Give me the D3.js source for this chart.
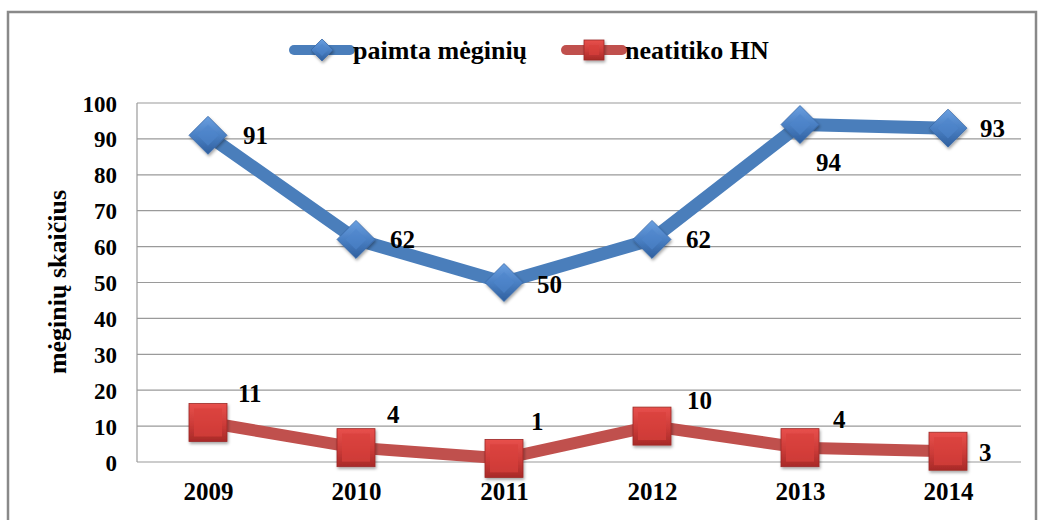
<!DOCTYPE html>
<html>
<head>
<meta charset="utf-8">
<script src="https://cdn.jsdelivr.net/npm/d3@7"></script>
<style>
  body { margin: 0; background: #fff; }
  svg text { font-family: "Liberation Serif", "Times New Roman", serif !important; font-weight: bold; fill: #000; }
</style>
</head>
<body>
<div id="chart"></div>
<script>
let years = ['2009', '2010', '2011', '2012', '2013', '2014']
let paimta = [91, 62, 50, 62, 94, 93]
let neatitiko = [11, 4, 1, 10, 4, 3]
let yTicks = [0, 10, 20, 30, 40, 50, 60, 70, 80, 90, 100]
let seriesNames = ['paimta mėginių', 'neatitiko HN']
let yTitle = 'mėginių skaičius'

// label offsets (px) from each point, like Excel placed them
let blueLabelPos = [[35, 0], [34, 0], [33, 2], [34, 0], [16, 38], [32, 0]]
let redLabelPos = [[30, -29], [31, -33], [27, -37], [35, -26], [33, -28], [31, 1]]

let width = 1038
let height = 520
let plot = { left: 137, right: 1021, top: 103, bottom: 462 }

let svg = d3
  .select('#chart')
  .append('svg')
  .attr('width', width)
  .attr('height', height)

let defs = svg.append('defs')

let blueGrad = defs.append('linearGradient')
  .attr('id', 'blueGrad').attr('x1', 0).attr('y1', 0).attr('x2', 0).attr('y2', 1)
blueGrad.append('stop').attr('offset', '0%').attr('stop-color', '#6a9fe0')
blueGrad.append('stop').attr('offset', '50%').attr('stop-color', '#4a80c4')
blueGrad.append('stop').attr('offset', '100%').attr('stop-color', '#2f5f9e')

let redGrad = defs.append('linearGradient')
  .attr('id', 'redGrad').attr('x1', 0).attr('y1', 0).attr('x2', 0).attr('y2', 1)
redGrad.append('stop').attr('offset', '0%').attr('stop-color', '#e8504c')
redGrad.append('stop').attr('offset', '55%').attr('stop-color', '#cc3b38')
redGrad.append('stop').attr('offset', '100%').attr('stop-color', '#a82a28')

let shadow = defs.append('filter').attr('id', 'shadow')
  .attr('x', '-30%').attr('y', '-30%').attr('width', '160%').attr('height', '160%')
shadow.append('feDropShadow')
  .attr('dx', 1).attr('dy', 2).attr('stdDeviation', 1.5)
  .attr('flood-color', '#000').attr('flood-opacity', 0.35)

// outer chart border
svg.append('rect')
  .attr('x', 8).attr('y', 12)
  .attr('width', 1028).attr('height', 520)
  .attr('fill', 'none')
  .attr('stroke', '#898989')
  .attr('stroke-width', 2.5)

let xScale = d3.scalePoint().domain(years).range([134, 1022]).padding(0.5)
let yScale = d3.scaleLinear().domain([0, 100]).range([plot.bottom, plot.top])

// gridlines
svg.append('g')
  .selectAll('line')
  .data(yTicks)
  .enter()
  .append('line')
  .attr('x1', plot.left)
  .attr('x2', plot.right)
  .attr('y1', d => yScale(d))
  .attr('y2', d => yScale(d))
  .attr('stroke', '#9a9a9a')
  .attr('stroke-width', 1.2)

svg.append('line')
  .attr('x1', plot.left).attr('x2', plot.left)
  .attr('y1', plot.top).attr('y2', plot.bottom)
  .attr('stroke', '#9a9a9a').attr('stroke-width', 1.2)

// y axis labels
let yAxis = d3.axisLeft(yScale).tickValues(yTicks).tickSize(0).tickPadding(20)
svg.append('g')
  .attr('transform', `translate(${plot.left},0)`)
  .call(yAxis)
  .attr('font-family', null)
  .attr('font-size', 23)
  .call(g => g.select('.domain').remove())
  .selectAll('text')
  .attr('dy', '0.35em')

// x axis labels
let xAxis = d3.axisBottom(xScale).tickSize(0).tickPadding(20)
svg.append('g')
  .attr('transform', `translate(0,${plot.bottom})`)
  .call(xAxis)
  .attr('font-family', null)
  .attr('font-size', 25)
  .call(g => g.select('.domain').remove())

svg.append('text')
  .attr('transform', 'translate(66,282) rotate(-90)')
  .attr('text-anchor', 'middle')
  .attr('font-size', 26)
  .text(yTitle)

let line = d3.line()
  .x((d, i) => xScale(years[i]))
  .y(d => yScale(d))

function diamond(g, cx, cy, r) {
  g.append('path')
    .attr('d', `M${cx},${cy - r}L${cx + r},${cy}L${cx},${cy + r}L${cx - r},${cy}Z`)
    .attr('fill', 'url(#blueGrad)')
    .attr('stroke', '#3a6aa8')
    .attr('stroke-width', 0.8)
    .attr('filter', 'url(#shadow)')
  g.append('path')
    .attr('d', `M${cx},${cy - r * 0.55}L${cx + r * 0.55},${cy}L${cx},${cy + r * 0.55}L${cx - r * 0.55},${cy}Z`)
    .attr('fill', '#4f86cb')
    .attr('opacity', 0.6)
}

function square(g, cx, cy, s) {
  g.append('rect')
    .attr('x', cx - s / 2).attr('y', cy - s / 2)
    .attr('width', s).attr('height', s)
    .attr('fill', 'url(#redGrad)')
    .attr('stroke', '#9c2a27')
    .attr('stroke-width', 0.8)
    .attr('filter', 'url(#shadow)')
  g.append('rect')
    .attr('x', cx - s / 2 + 5).attr('y', cy - s / 2 + 5)
    .attr('width', s - 10).attr('height', s - 10)
    .attr('fill', '#d8403c')
    .attr('opacity', 0.7)
}

// series lines
svg.append('path')
  .datum(neatitiko)
  .attr('d', line)
  .attr('fill', 'none')
  .attr('stroke', '#c0504d')
  .attr('stroke-width', 12)
  .attr('stroke-linejoin', 'round')

svg.append('path')
  .datum(paimta)
  .attr('d', line)
  .attr('fill', 'none')
  .attr('stroke', '#4a7ebb')
  .attr('stroke-width', 13)
  .attr('stroke-linejoin', 'round')

let markers = svg.append('g')
paimta.forEach((v, i) => diamond(markers, xScale(years[i]), yScale(v), 19))
neatitiko.forEach((v, i) => square(markers, xScale(years[i]), yScale(v), 38))

// data labels
svg.append('g')
  .selectAll('text')
  .data(paimta)
  .enter()
  .append('text')
  .attr('x', (d, i) => xScale(years[i]) + blueLabelPos[i][0])
  .attr('y', (d, i) => yScale(d) + blueLabelPos[i][1])
  .attr('dy', '0.35em')
  .attr('font-size', 25)
  .text(d => d)

svg.append('g')
  .selectAll('text')
  .data(neatitiko)
  .enter()
  .append('text')
  .attr('x', (d, i) => xScale(years[i]) + redLabelPos[i][0])
  .attr('y', (d, i) => yScale(d) + redLabelPos[i][1])
  .attr('dy', '0.35em')
  .attr('font-size', 25)
  .text(d => d)

// legend
let legend = svg.append('g')
let legendItems = [
  { name: seriesNames[0], x: 291, color: '#4a7ebb', kind: 'diamond' },
  { name: seriesNames[1], x: 563, color: '#c0504d', kind: 'square' }
]
legendItems.forEach(item => {
  legend.append('line')
    .attr('x1', item.x + 3).attr('x2', item.x + 59)
    .attr('y1', 50).attr('y2', 50)
    .attr('stroke', item.color)
    .attr('stroke-width', 10)
    .attr('stroke-linecap', 'round')
  if (item.kind === 'diamond') diamond(legend, item.x + 31, 50, 11)
  else square(legend, item.x + 31, 50, 20)
  legend.append('text')
    .attr('x', item.x + 62)
    .attr('y', 50)
    .attr('dy', '0.35em')
    .attr('font-size', 26)
    .text(item.name)
})
</script>
</body>
</html>
